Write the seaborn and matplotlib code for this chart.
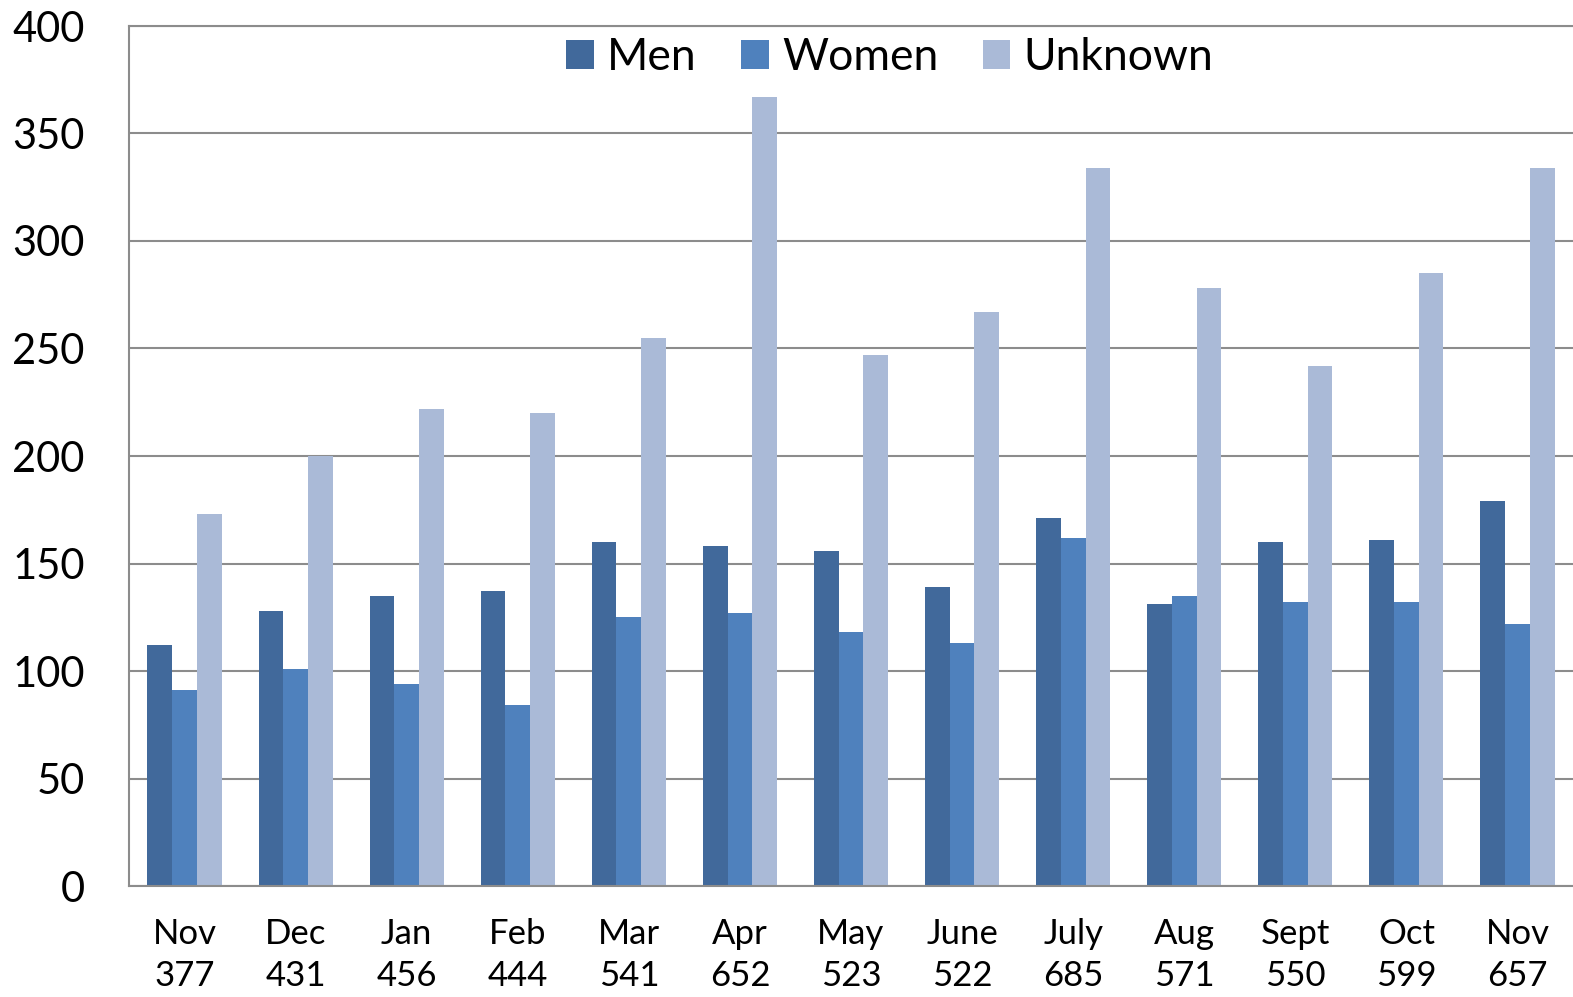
import numpy as np
import pandas as pd
import matplotlib
matplotlib.use("Agg")
import matplotlib.pyplot as plt
import seaborn as sns

# data
months = ["Nov", "Dec", "Jan", "Feb", "Mar", "Apr", "May",
          "June", "July", "Aug", "Sept", "Oct", "Nov"]
totals = [377, 431, 456, 444, 541, 652, 523, 522, 685, 571, 550, 599, 657]
men = [112, 128, 135, 137, 160, 158, 156, 139, 171, 131, 160, 161, 179]
women = [91, 101, 94, 84, 125, 127, 118, 113, 162, 135, 132, 132, 122]
unknown = [173, 200, 222, 220, 255, 367, 247, 267, 334, 278, 242, 285, 334]

series_names = ["Men", "Women", "Unknown"]
colors = ["#41699b", "#4f81bd", "#aabad7"]
grid_color = "#8c8c8c"

labels = [f"{m}\n{t}" for m, t in zip(months, totals)]
df = pd.DataFrame({
    "period": labels * 3,
    "series": np.repeat(series_names, len(labels)),
    "value": men + women + unknown,
})

sns.set_style("white")
plt.rcParams["font.family"] = ["Lato", "DejaVu Sans"]
plt.rcParams["text.color"] = "black"
plt.rcParams["xtick.color"] = "black"
plt.rcParams["ytick.color"] = "black"

fig = plt.figure(figsize=(15.73, 9.97), dpi=100)
ax = fig.add_axes([129 / 1573, 111 / 997, 1444 / 1573, 860 / 997])

sns.barplot(data=df, x="period", y="value", hue="series", order=labels,
            hue_order=series_names, palette=colors, width=0.667,
            errorbar=None, linewidth=0, saturation=1, ax=ax)

ax.set_xlim(-0.5, len(labels) - 0.5)
ax.set_ylim(0, 400)
ax.set_yticks(range(0, 401, 50))
ax.set_xlabel("")
ax.set_ylabel("")

ax.set_axisbelow(True)
ax.yaxis.grid(True, color=grid_color, linewidth=1.5)
ax.spines["right"].set_visible(False)
for side in ["left", "bottom", "top"]:
    ax.spines[side].set_color(grid_color)
    ax.spines[side].set_linewidth(1.5)

ax.set_xticks(np.arange(-0.5, len(labels), 1), minor=True)
ax.tick_params(axis="x", which="major", length=0, pad=23, labelsize=25)
ax.tick_params(axis="x", which="minor", length=10, width=1.5,
               color=grid_color, direction="out")
ax.tick_params(axis="y", length=10, width=1.5, color=grid_color,
               labelcolor="black", direction="out", pad=22, labelsize=30)
for t in ax.get_xticklabels():
    t.set_linespacing(1.4)

handles, names = ax.get_legend_handles_labels()
ax.legend(handles, names, loc="center", bbox_to_anchor=(0.527, 0.963),
          ncol=3, frameon=False, fontsize=32, handlelength=0.62,
          handleheight=0.62, handletextpad=0.3, columnspacing=1.0,
          borderpad=0)

fig.savefig("out.png", dpi=100)
